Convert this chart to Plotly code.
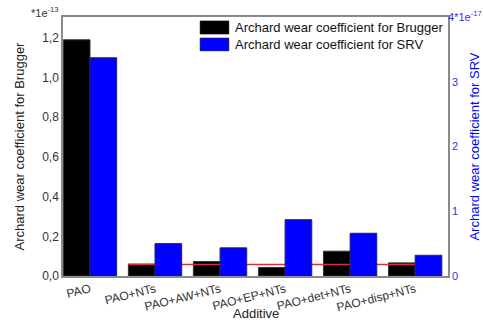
import plotly.graph_objects as go

# Wear coefficients per additive package
additives = ["PAO", "PAO+NTs", "PAO+AW+NTs", "PAO+EP+NTs", "PAO+det+NTs", "PAO+disp+NTs"]
brugger = [1.19, 0.06, 0.073, 0.043, 0.125, 0.066]   # x 1e-13
srv = [3.37, 0.50, 0.435, 0.87, 0.66, 0.32]          # x 1e-17
reference_level = 0.058                              # x 1e-13, red marker line
srv_ticks = [0, 1, 2, 3]
srv_ticktext = ["0", "1", "2", "3"]

FONT = "Liberation Sans, Arial, sans-serif"
BLUE = "#0000ff"
AXIS_GREY = "#8a8a8a"
BAR_W = 0.41

xpos = list(range(len(additives)))

fig = go.Figure()

fig.add_trace(go.Bar(
    x=xpos, y=brugger, width=BAR_W, offset=-BAR_W,
    marker=dict(color="#000000", line=dict(color="#333333", width=1)),
    name="Archard wear coefficient for Brugger", showlegend=False,
    yaxis="y",
))
fig.add_trace(go.Bar(
    x=xpos, y=srv, width=BAR_W, offset=0,
    marker=dict(color=BLUE, line=dict(color="#222266", width=1)),
    name="Archard wear coefficient for SRV", showlegend=False,
    yaxis="y2",
))
fig.add_trace(go.Scatter(
    x=[xpos[1] - BAR_W, xpos[-1] + BAR_W], y=[reference_level, reference_level],
    mode="lines", line=dict(color="#ff2020", width=1.5),
    showlegend=False, hoverinfo="skip", yaxis="y",
))

fig.update_layout(
    width=483, height=320,
    margin=dict(l=63, r=35, t=17, b=44, autoexpand=False),
    paper_bgcolor="white", plot_bgcolor="white",
    barmode="overlay",
    separators=",.",
    font=dict(family=FONT, size=12, color="#333333"),
    xaxis=dict(
        range=[-0.415, 5.505], automargin=False,
        tickmode="array", tickvals=xpos, ticktext=additives,
        tickangle=-14, ticks="", showgrid=False, zeroline=False,
        showline=True, linecolor=AXIS_GREY, linewidth=1.5, mirror=True,
        tickfont=dict(size=12, color="#333333"),
    ),
    yaxis=dict(
        range=[0, 1.305], tickvals=[0, 0.2, 0.4, 0.6, 0.8, 1.0, 1.2], automargin=False,
        tickformat=".1f", ticks="", showgrid=False, zeroline=False,
        showline=True, linecolor=AXIS_GREY, linewidth=1.5,
        tickfont=dict(size=12, color="#333333"),
        title=dict(text="Archard wear coefficient for Brugger",
                   font=dict(size=13, color="#222222"), standoff=15),
    ),
    yaxis2=dict(
        overlaying="y", side="right", anchor="x", automargin=False,
        range=[0, 4], tickmode="array", tickvals=srv_ticks, ticktext=srv_ticktext,
        ticks="", showgrid=False, zeroline=False,
        showline=True, linecolor=AXIS_GREY, linewidth=1.5,
        tickfont=dict(size=11, color="#3333dd"),
        title=dict(text="Archard wear coefficient for SRV",
                   font=dict(size=13, color=BLUE), standoff=13),
    ),
)

# X axis title
fig.add_annotation(
    xref="paper", yref="paper", x=0.5, y=-0.143, xanchor="center", yanchor="middle",
    text="Additive", showarrow=False, font=dict(size=13, color="#222222"),
)

# Exponent markers for both value axes
fig.add_annotation(
    xref="paper", yref="paper", x=0, y=1, xanchor="right", yanchor="bottom",
    text="*1e<sup>-13</sup>", showarrow=False,
    font=dict(size=11, color="#333333"), xshift=-2, yshift=-4,
)
fig.add_annotation(
    xref="paper", yref="paper", x=1, y=1, xanchor="left", yanchor="bottom",
    text="4*1e<sup>-17</sup>", showarrow=False,
    font=dict(size=11, color="#3333dd"), xshift=-2, yshift=-8,
)

# Legend drawn in the upper right of the plot area
legend_items = [
    ("Archard wear coefficient for Brugger", "#000000", 0.985, 0.934),
    ("Archard wear coefficient for SRV", BLUE, 0.919, 0.869),
]
for label, color, y_top, y_bot in legend_items:
    fig.add_shape(type="rect", xref="paper", yref="paper",
                  x0=0.356, x1=0.431, y0=y_bot, y1=y_top,
                  fillcolor=color, line=dict(color="#222222", width=0.5))
    fig.add_annotation(xref="paper", yref="paper", x=0.442, y=(y_top + y_bot) / 2,
                       xanchor="left", yanchor="middle", text=label, showarrow=False,
                       font=dict(size=13, color="#111111"))

fig.write_html("out.html")
